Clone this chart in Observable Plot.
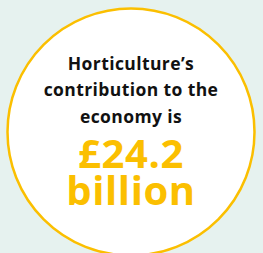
<!DOCTYPE html>
<html>
<head>
<meta charset="utf-8">
<script src="https://cdn.jsdelivr.net/npm/d3@7"></script>
<script src="https://cdn.jsdelivr.net/npm/@observablehq/plot@0.6"></script>
<style>
  html, body { margin: 0; padding: 0; background: #e6f2ef; }
  .intro text { letter-spacing: 0.4px; }
  .big text { letter-spacing: 0.6px; }
</style>
</head>
<body>
<div id="chart"></div>
<script>
const introLines = ["Horticulture’s", "contribution to the", "economy is"];
const valueText = ["£24.2"];
const unitText = ["billion"];

const W = 263, H = 253;
const cx = 130.5, cy = 131.5, R = 123.5;
const yellow = "#fbbf00";
const font = "'Open Sans', 'Noto Sans', sans-serif";

const introRows = introLines.map((t, i) => ({t, y: 69 + i * 26.5}));
const bigRows = [
  {t: valueText[0], y: 167},
  {t: unitText[0], y: 204}
];

const plot = Plot.plot({
  width: W,
  height: H,
  margin: 0,
  x: {domain: [0, W], range: [0, W], axis: null},
  y: {domain: [0, H], range: [0, H], axis: null},
  style: {background: "#e6f2ef", fontFamily: font},
  marks: [
    Plot.dot([{x: cx, y: cy}], {x: "x", y: "y", r: R, fill: "white", stroke: yellow, strokeWidth: 2.5}),
    Plot.text(introRows, {x: () => cx, y: "y", text: "t", lineAnchor: "bottom", fontSize: 17.5, fontWeight: 700, fill: "#111", textAnchor: "middle", className: "intro"}),
    Plot.text(bigRows, {x: () => cx, y: "y", text: "t", lineAnchor: "bottom", fontSize: 40, fontWeight: 700, fill: yellow, textAnchor: "middle", className: "big", lineHeight: 0.9})
  ]
});
document.getElementById("chart").appendChild(plot);
</script>
</body>
</html>
